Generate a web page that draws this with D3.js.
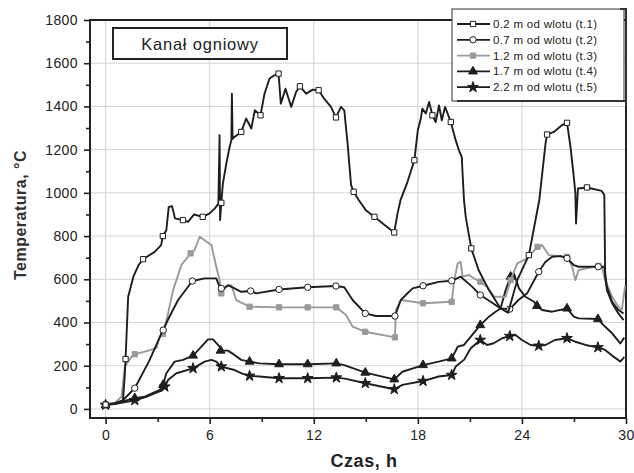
<!DOCTYPE html>
<html>
<head>
<meta charset="utf-8">
<script src="https://cdn.jsdelivr.net/npm/d3@7"></script>
<style>
  body { margin: 0; background: #fff; }
  svg { font-family: "Liberation Sans", Arial, sans-serif; }
</style>
</head>
<body>
<svg width="634" height="473"></svg>
<script>
// time [h], temperature [°C]
const t1 = [[-0.2,20],[0.5,25],[1.0,40],[1.1,150],[1.15,231],[1.3,519],[1.6,612],[1.9,666],[2.16,693],[2.83,727],[3.2,758],[3.3,800],[3.5,827],[3.64,935],[3.83,938],[4.0,882],[4.46,874],[4.75,866],[5.1,900],[5.6,889],[6.0,905],[6.3,928],[6.5,950],[6.57,1267],[6.6,874],[6.67,954],[6.76,1043],[6.96,1136],[7.15,1213],[7.25,1244],[7.28,1459],[7.32,1250],[7.43,1259],[7.82,1282],[8.1,1344],[8.4,1298],[8.6,1382],[8.93,1359],[9.16,1459],[9.45,1529],[9.73,1544],[9.97,1552],[10.1,1413],[10.37,1482],[10.7,1398],[10.98,1467],[11.2,1493],[11.56,1459],[11.94,1478],[12.28,1475],[12.6,1436],[12.99,1398],[13.28,1349],[13.57,1398],[13.76,1382],[13.95,1228],[14.15,1036],[14.3,1005],[14.6,966],[15.0,920],[15.5,889],[16.1,850],[16.64,817],[16.83,905],[17.0,966],[17.4,1050],[17.8,1151],[18.0,1290],[18.17,1344],[18.26,1390],[18.46,1367],[18.65,1421],[18.84,1359],[19.03,1328],[19.22,1405],[19.38,1336],[19.57,1398],[19.9,1328],[20.18,1244],[20.37,1197],[20.53,1166],[20.66,966],[20.76,889],[21.08,743],[21.5,643],[22.1,550],[22.77,465],[23.2,445],[23.73,596],[24.4,712],[25.0,966],[25.36,1228],[25.45,1270],[25.84,1282],[26.3,1313],[26.6,1324],[26.8,1213],[26.99,1074],[27.08,1000],[27.12,858],[27.23,1020],[27.75,1025],[28.6,1009],[28.75,990],[28.8,612],[28.9,550],[29.2,489],[29.56,442],[29.86,411]];
const t2 = [[-0.2,20],[0.5,25],[1.0,40],[1.68,96],[2.5,220],[3.22,350],[3.7,430],[4.18,504],[5.0,592],[5.71,604],[6.38,604],[6.57,565],[6.76,550],[7.05,573],[7.43,558],[7.82,542],[8.36,546],[8.68,535],[10.0,553],[11.65,563],[13.28,569],[13.76,563],[14.24,504],[14.97,442],[15.58,430],[16.68,430],[17.02,504],[17.3,527],[17.7,558],[18.3,570],[19.2,588],[19.95,593],[20.47,612],[21.14,565],[21.6,527],[22.2,496],[22.77,465],[23.3,462],[23.8,504],[24.3,535],[24.97,635],[25.36,681],[25.74,704],[26.22,707],[26.6,697],[26.99,666],[27.27,658],[28.4,658],[28.75,658],[28.9,565],[29.2,496],[29.56,458],[29.86,442]];
const t3 = [[-0.2,20],[0.5,25],[0.92,57],[1.11,196],[1.5,242],[1.68,253],[2.26,265],[2.93,281],[3.12,334],[3.31,347],[3.6,442],[3.89,550],[4.37,666],[4.9,720],[5.13,735],[5.42,797],[5.71,781],[6.1,758],[6.38,658],[6.57,596],[6.67,535],[6.86,565],[7.25,573],[7.53,504],[8.3,473],[10.0,470],[11.65,470],[13.3,470],[13.86,435],[14.24,381],[14.97,357],[16.68,331],[16.73,458],[17.02,504],[18.3,489],[19.95,496],[20.1,596],[20.3,674],[20.47,681],[20.57,612],[20.95,620],[21.24,604],[21.6,589],[22.0,565],[22.4,519],[23.06,519],[23.35,596],[23.73,674],[24.3,697],[24.9,750],[25.16,758],[25.55,712],[26.6,704],[26.9,658],[27.08,596],[27.27,643],[28.4,662],[28.6,660],[28.8,596],[29.2,519],[29.56,473],[29.76,458],[29.95,570]];
const t4 = [[-0.2,18],[0.5,22],[1.3,42],[1.68,50],[2.26,57],[3.12,88],[3.31,111],[3.5,165],[3.98,219],[4.46,227],[5.04,247],[5.52,288],[5.9,322],[6.19,322],[6.57,288],[6.63,270],[7.05,270],[7.43,250],[7.82,227],[8.3,219],[8.87,211],[10.0,207],[11.65,207],[13.3,211],[13.76,203],[14.97,168],[16.64,137],[17.11,172],[18.3,203],[19.2,219],[19.95,234],[20.3,288],[20.66,296],[21.6,388],[22.1,427],[22.48,450],[22.77,465],[23.06,550],[23.35,612],[23.54,627],[23.83,558],[24.2,519],[24.7,496],[24.87,477],[25.16,458],[25.74,450],[26.6,465],[26.99,427],[27.27,419],[28.38,416],[28.8,380],[29.2,350],[29.67,303],[29.9,330]];
const t5 = [[-0.2,18],[0.5,22],[1.3,34],[1.68,40],[2.26,54],[3.22,85],[3.41,103],[3.6,134],[4.08,165],[5.04,188],[5.71,219],[6.1,227],[6.38,219],[6.67,196],[7.43,180],[7.91,162],[8.3,153],[8.87,150],[10.0,142],[11.65,142],[13.3,145],[13.8,140],[14.97,119],[16.64,91],[17.11,111],[18.3,129],[19.2,150],[19.95,157],[20.18,196],[20.66,227],[21.05,281],[21.6,319],[22.0,296],[22.37,304],[22.86,327],[23.3,337],[23.63,342],[24.0,319],[24.5,296],[24.97,292],[25.36,296],[25.9,319],[26.6,327],[27.08,311],[27.66,296],[28.38,285],[28.8,273],[29.28,242],[29.67,219],[29.9,240]];

// marker points
const m1 = [[0,20],[1.15,231],[2.16,693],[3.3,800],[4.46,874],[5.6,889],[6.67,954],[7.82,1282],[8.93,1359],[9.97,1552],[11.2,1493],[12.28,1475],[13.28,1349],[14.3,1005],[15.5,889],[16.64,817],[17.8,1151],[18.84,1359],[19.9,1328],[21.08,743],[24.4,712],[25.45,1270],[26.6,1324],[27.75,1025]];
const m2 = [[0,20],[1.68,96],[3.32,365],[5.0,592],[6.67,558],[8.36,546],[10.0,553],[11.65,563],[13.28,569],[14.97,442],[16.68,430],[18.3,570],[19.95,593],[21.6,527],[23.3,462],[24.97,635],[26.6,697],[28.4,658]];
const m3 = [[0,20],[1.68,253],[3.31,347],[4.9,720],[6.67,535],[8.3,473],[10.0,470],[11.65,470],[13.3,470],[14.97,357],[16.68,331],[18.3,489],[19.95,496],[21.6,589],[23.35,596],[24.9,750],[26.6,704],[28.4,662]];
const m4 = [[0,18],[1.68,50],[3.31,111],[5.04,247],[6.63,270],[8.3,219],[10.0,207],[11.65,207],[13.3,211],[14.97,168],[16.64,137],[18.3,203],[19.95,234],[21.6,388],[23.35,612],[24.87,477],[26.6,465],[28.38,416]];
const m5 = [[0,18],[1.68,40],[3.41,103],[5.04,188],[6.67,196],[8.3,153],[10.0,142],[11.65,142],[13.3,145],[14.97,119],[16.64,91],[18.3,129],[19.95,157],[21.6,319],[23.3,337],[24.97,292],[26.6,327],[28.38,285]];

const names = ['0.2 m od wlotu (t.1)', '0.7 m od wlotu (t.2)', '1.2 m od wlotu (t.3)', '1.7 m od wlotu (t.4)', '2.2 m od wlotu (t.5)'];
const xTicks = [0, 6, 12, 18, 24, 30];
const yTicks = [0, 200, 400, 600, 800, 1000, 1200, 1400, 1600, 1800];

const svg = d3.select('svg');
const pLeft = 90, pRight = 626, pTop = 20, pBottom = 418;

const x = d3.scaleLinear().domain([-0.9, 30]).range([pLeft, pRight]);
const y = d3.scaleLinear().domain([-42, 1800]).range([pBottom, pTop]);

// grid
svg.append('g').selectAll('line').data(xTicks).enter().append('line')
  .attr('x1', d => x(d)).attr('x2', d => x(d)).attr('y1', pTop).attr('y2', pBottom)
  .attr('stroke', '#d4d4d4').attr('stroke-width', 1);
svg.append('g').selectAll('line').data(yTicks).enter().append('line')
  .attr('x1', pLeft).attr('x2', pRight).attr('y1', d => y(d)).attr('y2', d => y(d))
  .attr('stroke', '#d4d4d4').attr('stroke-width', 1);

// axes
const xAxis = svg.append('g').attr('transform', `translate(0,${pBottom})`)
  .call(d3.axisBottom(x).tickValues(xTicks).tickFormat(d3.format('d')).tickSize(6).tickPadding(6).tickSizeOuter(0));
const xMinor = svg.append('g').attr('transform', `translate(0,${pBottom})`)
  .call(d3.axisBottom(x).tickValues([3, 9, 15, 21, 27]).tickSize(4).tickFormat('').tickSizeOuter(0));
const yAxis = svg.append('g').attr('transform', `translate(${pLeft},0)`)
  .call(d3.axisLeft(y).tickValues(yTicks).tickFormat(d3.format('d')).tickSize(6).tickPadding(6).tickSizeOuter(0));
const yMinor = svg.append('g').attr('transform', `translate(${pLeft},0)`)
  .call(d3.axisLeft(y).tickValues(d3.range(100, 1800, 200)).tickSize(4).tickFormat('').tickSizeOuter(0));

[xAxis, xMinor, yAxis, yMinor].forEach(a => {
  a.select('.domain').remove();
  a.selectAll('line').attr('stroke', '#222').attr('stroke-width', 1.6);
  a.selectAll('text').attr('fill', '#222').attr('font-size', 14).attr('letter-spacing', 0.4);
});

// frame
svg.append('rect').attr('x', pLeft).attr('y', pTop).attr('width', pRight - pLeft).attr('height', pBottom - pTop)
  .attr('fill', 'none').attr('stroke', '#222').attr('stroke-width', 2);

// lines
const series = [
  { data: t1, marks: m1, color: '#1e1e1e', sym: d3.symbolSquare, size: 28, fill: '#fff' },
  { data: t2, marks: m2, color: '#1e1e1e', sym: d3.symbolCircle, size: 32, fill: '#fff' },
  { data: t3, marks: m3, color: '#9a9a9a', sym: d3.symbolSquare, size: 28, fill: '#9a9a9a' },
  { data: t4, marks: m4, color: '#1e1e1e', sym: d3.symbolTriangle, size: 34, fill: '#1e1e1e' },
  { data: t5, marks: m5, color: '#1e1e1e', sym: d3.symbolStar, size: 36, fill: '#1e1e1e' }
];

const line = d3.line().x(d => x(d[0])).y(d => y(d[1]));
const plot = svg.append('g');
const drawOrder = [4, 3, 2, 1, 0];
drawOrder.forEach(i => {
  const s = series[i];
  plot.append('path').datum(s.data).attr('d', line)
    .attr('fill', 'none').attr('stroke', s.color).attr('stroke-width', 1.9)
    .attr('stroke-linejoin', 'round');
  plot.append('g').selectAll('path').data(s.marks).enter().append('path')
    .attr('d', d3.symbol().type(s.sym).size(s.size))
    .attr('transform', d => `translate(${x(d[0])},${y(d[1])})`)
    .attr('fill', s.fill).attr('stroke', s.color).attr('stroke-width', 1);
});

// title box
svg.append('rect').attr('x', 113).attr('y', 28).attr('width', 174).attr('height', 31)
  .attr('fill', '#fff').attr('stroke', '#222').attr('stroke-width', 2);
svg.append('text').attr('x', 200).attr('y', 49.5).attr('text-anchor', 'middle')
  .attr('font-size', 16.5).attr('letter-spacing', 0.8).attr('fill', '#222').text('Kanał ogniowy');

// legend
const lg = svg.append('g');
lg.append('rect').attr('x', 452).attr('y', 9).attr('width', 172).attr('height', 92)
  .attr('fill', '#fff').attr('stroke', '#333').attr('stroke-width', 1);
lg.append('path').attr('d', 'M620,9 L626,9 L626,106 M457,101 L626,101')
  .attr('fill', 'none').attr('stroke', '#333').attr('stroke-width', 2);
names.forEach((n, i) => {
  const s = series[i];
  const yy = 24 + i * 15.8;
  lg.append('line').attr('x1', 457).attr('x2', 490).attr('y1', yy).attr('y2', yy)
    .attr('stroke', s.color).attr('stroke-width', 1.8);
  lg.append('path').attr('d', d3.symbol().type(s.sym).size(s.size)())
    .attr('transform', `translate(473,${yy})`)
    .attr('fill', s.fill).attr('stroke', s.color).attr('stroke-width', 1);
  lg.append('text').attr('x', 493).attr('y', yy + 4).attr('font-size', 11.5)
    .attr('letter-spacing', 0.3).attr('fill', '#222').text(n);
});

// axis titles
svg.append('text').attr('transform', 'translate(26,215) rotate(-90)').attr('text-anchor', 'middle')
  .attr('font-size', 16).attr('font-weight', 'bold').attr('letter-spacing', 0.5).attr('fill', '#333').text('Temperatura, °C');
svg.append('text').attr('x', 364).attr('y', 467).attr('text-anchor', 'middle')
  .attr('font-size', 18).attr('font-weight', 'bold').attr('letter-spacing', 0.6).attr('fill', '#222').text('Czas, h');
</script>
</body>
</html>
